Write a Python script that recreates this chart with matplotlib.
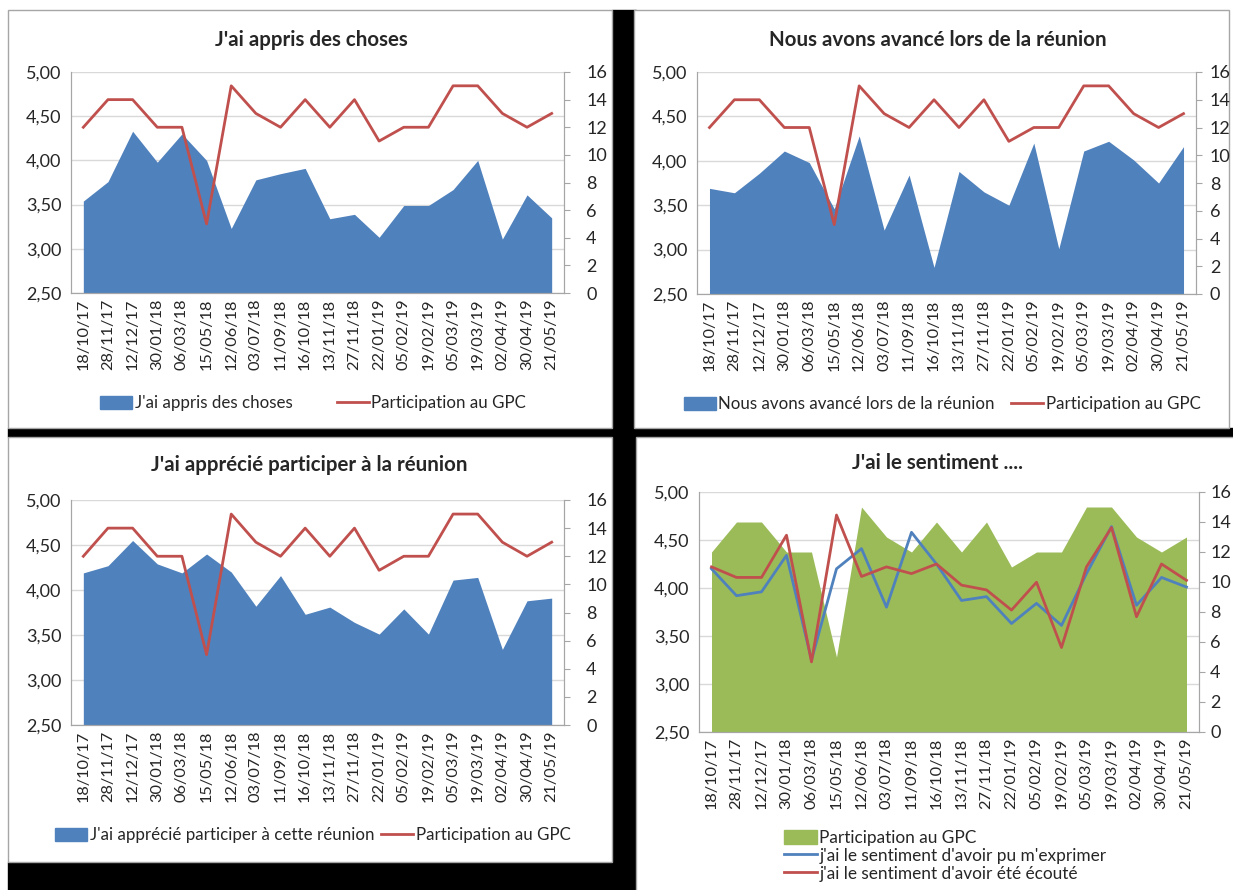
import matplotlib
matplotlib.use("Agg")
import matplotlib.pyplot as plt
from matplotlib.patches import Rectangle, Patch
from matplotlib.lines import Line2D

plt.rcParams["font.family"] = ["Lato", "DejaVu Sans"]

# ---- data -----------------------------------------------------------------
dates = ["18/10/17", "28/11/17", "12/12/17", "30/01/18", "06/03/18", "15/05/18",
         "12/06/18", "03/07/18", "11/09/18", "16/10/18", "13/11/18", "27/11/18",
         "22/01/19", "05/02/19", "19/02/19", "05/03/19", "19/03/19", "02/04/19",
         "30/04/19", "21/05/19"]

participation = [12, 14, 14, 12, 12, 5, 15, 13, 12, 14, 12, 14, 11, 12, 12, 15, 15, 13, 12, 13]

appris = [3.54, 3.76, 4.33, 3.98, 4.30, 4.00, 3.23, 3.78, 3.85, 3.91,
          3.34, 3.39, 3.13, 3.49, 3.49, 3.67, 4.00, 3.11, 3.61, 3.35]

avance = [3.69, 3.64, 3.86, 4.11, 3.98, 3.46, 4.28, 3.22, 3.84, 2.80,
          3.88, 3.65, 3.50, 4.20, 3.01, 4.11, 4.22, 4.01, 3.75, 4.16]

apprecie = [4.19, 4.27, 4.55, 4.29, 4.19, 4.40, 4.20, 3.82, 4.16, 3.73,
            3.81, 3.64, 3.51, 3.79, 3.51, 4.11, 4.14, 3.34, 3.88, 3.91]

exprimer = [4.20, 3.92, 3.96, 4.34, 3.25, 4.20, 4.41, 3.80, 4.58, 4.25,
            3.87, 3.91, 3.63, 3.84, 3.61, 4.15, 4.64, 3.82, 4.11, 4.01]

ecoute = [4.22, 4.11, 4.11, 4.55, 3.23, 4.76, 4.12, 4.22, 4.15, 4.25,
          4.03, 3.98, 3.77, 4.06, 3.38, 4.22, 4.63, 3.70, 4.25, 4.08]

left_ticks = [2.5, 3.0, 3.5, 4.0, 4.5, 5.0]
left_labels = ["2,50", "3,00", "3,50", "4,00", "4,50", "5,00"]
right_ticks = list(range(0, 17, 2))

BLUE = "#4F81BD"
RED = "#C0504D"
GREEN = "#9BBB59"
GRID = "#D9D9D9"
AXIS = "#A6A6A6"
TXT = "#262626"

W, H = 1233, 890
fig = plt.figure(figsize=(W / 100, H / 100), dpi=100, facecolor="white")


def px(l, t, r, b):
    """pixel box (top-left origin) -> figure rect"""
    return [l / W, 1 - b / H, (r - l) / W, (b - t) / H]


def frame(l, t, r, b, color, edge=None):
    fig.add_artist(Rectangle((l / W, 1 - b / H), (r - l) / W, (b - t) / H,
                             transform=fig.transFigure, facecolor=color,
                             edgecolor=edge or color, linewidth=1.0, zorder=-10))


# black separators and white panels
frame(612, 10, 636, 890, "black")
frame(8, 428, 1233, 437, "black")
frame(8, 862, 636, 890, "black")
frame(8, 10, 612, 428, "white", AXIS)
frame(634, 10, 1229, 428, "white", AXIS)
frame(8, 437, 612, 862, "white", AXIS)
frame(636, 437, 1245, 895, "white", AXIS)


def style_axes(ax, ax2, rpad=12):
    x = range(len(dates))
    ax.set_xlim(-0.5, len(dates) - 0.5)
    ax.set_ylim(2.5, 5.0)
    ax.set_yticks(left_ticks)
    ax.set_yticklabels(left_labels)
    ax.set_xticks(list(x))
    ax.set_xticklabels(dates, rotation=90)
    ax.grid(axis="y", color=GRID, linewidth=1.0)
    ax.set_axisbelow(True)
    ax.patch.set_alpha(0)
    ax.tick_params(axis="y", length=0, labelsize=13, colors=TXT, pad=7)
    ax.tick_params(axis="x", length=0, labelsize=11.8, colors=TXT, pad=4)
    ax2.set_ylim(0, 16)
    ax2.set_yticks(right_ticks)
    ax2.tick_params(axis="y", length=4, color=AXIS, labelsize=13, labelcolor=TXT, pad=rpad)
    for a in (ax, ax2):
        for s in a.spines.values():
            s.set_color(AXIS)
            s.set_linewidth(0.8)
        a.spines["top"].set_visible(False)


def score_panel(rect, title, title_xy, values, label, leg_xy, colsp, rpad):
    ax = fig.add_axes(px(*rect))
    ax2 = ax.twinx()
    x = list(range(len(dates)))
    ax.fill_between(x, 2.5, values, color=BLUE, linewidth=0)
    ax2.plot(x, participation, color=RED, linewidth=2.0)
    style_axes(ax, ax2, rpad)
    fig.text(title_xy[0] / W, 1 - title_xy[1] / H, title, ha="center", va="center",
             fontsize=14.8, fontweight="bold", color=TXT)
    handles = [Patch(facecolor=BLUE, edgecolor=BLUE),
               Line2D([], [], color=RED, linewidth=2.0)]
    fig.legend(handles, [label, "Participation au GPC"], loc="center",
               bbox_to_anchor=(leg_xy[0] / W, 1 - leg_xy[1] / H), ncol=2,
               frameon=False, fontsize=12.2, handlelength=1.9, handleheight=0.8,
               handletextpad=0.15, columnspacing=colsp, labelcolor=TXT)


score_panel((71, 72, 564, 293), "J'ai appris des choses", (311, 40), appris,
            "J'ai appris des choses", (313, 403), 2.6, 12)
score_panel((697, 72, 1196, 294), "Nous avons avancé lors de la réunion", (938, 40),
            avance, "Nous avons avancé lors de la réunion", (942, 404), 0.95, 6)
score_panel((71, 500, 564, 725), "J'ai apprécié participer à la réunion", (309, 465),
            apprecie, "J'ai apprécié participer à cette réunion", (313, 835), 0.4, 12)

# ---- panel 4: participation as area (right axis), feelings as lines --------
ax = fig.add_axes(px(699, 492, 1199, 732))
ax2 = ax.twinx()
ax3 = ax.twinx()
x = list(range(len(dates)))
ax2.fill_between(x, 0, participation, color=GREEN, linewidth=0)
ax3.plot(x, exprimer, color=BLUE, linewidth=2.0)
ax3.plot(x, ecoute, color=RED, linewidth=2.0)
style_axes(ax, ax2, rpad=4)
ax3.set_ylim(2.5, 5.0)
ax3.set_yticks([])
for s in ax3.spines.values():
    s.set_visible(False)
fig.text(938 / W, 1 - 463 / H, "J'ai le sentiment ....", ha="center", va="center",
         fontsize=14.8, fontweight="bold", color=TXT)
handles = [Patch(facecolor=GREEN, edgecolor=GREEN),
           Line2D([], [], color=BLUE, linewidth=2.0),
           Line2D([], [], color=RED, linewidth=2.0)]
fig.legend(handles, ["Participation au GPC", "j'ai le sentiment d'avoir pu m'exprimer",
                     "j'ai le sentiment d'avoir été écouté"],
           loc="upper left", bbox_to_anchor=(772 / W, 1 - 818 / H), ncol=1,
           frameon=False, fontsize=12.4, handlelength=1.9, handleheight=0.8,
           handletextpad=0.15, labelspacing=0.1, labelcolor=TXT, borderpad=0.2)

fig.savefig("out.png", dpi=100, facecolor="white")
